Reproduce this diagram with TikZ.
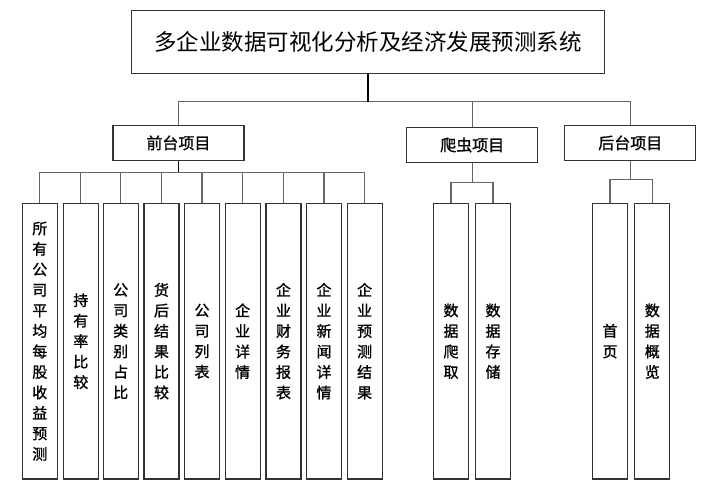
\documentclass[tikz,border=0pt]{standalone}
\usepackage{fontspec}
\setmainfont{Noto Sans CJK SC}
\newfontfamily\grasfont[FakeBold=1.2]{Noto Sans CJK SC}
\usepackage{tikz}
\definecolor{trait}{rgb}{0.2,0.2,0.2}
\definecolor{gristrait}{rgb}{0.4,0.4,0.4}

\begin{document}
\begin{tikzpicture}[x=1pt, y=-1pt, thin]
  \tikzstyle{titre}=[rectangle, draw=trait, line width=1.2pt, minimum width=473pt, minimum height=63pt, inner sep=0pt, font=\fontsize{22.5}{27}\selectfont]
  \tikzstyle{module}=[rectangle, draw=trait, line width=1.2pt, minimum width=131pt, minimum height=35.5pt, inner sep=0pt, font=\grasfont\fontsize{16}{19}\selectfont]
  \tikzstyle{feuille}=[rectangle, draw=trait, line width=1.2pt, minimum width=35pt, minimum height=275.5pt, inner sep=0pt, align=center, font=\grasfont\fontsize{15}{20.5}\selectfont]
  \tikzstyle{lien}=[draw=gristrait, line width=1.1pt]
  \tikzstyle{tronc}=[draw=black, line width=1.6pt]

  \useasboundingbox (0,0) rectangle (703,486);

	\node[titre]  (T) at (368,41.7) {多企业数据可视化分析及经济发展预测系统};

	\node[module] (F) at (178.4,142.9) {前台项目};
	\node[module] (P) at (472.2,145)   {爬虫项目};
	\node[module] (B) at (630.3,142.9) {后台项目};

	\node[feuille] (F1) at (39.8,341.2)  {所\\有\\公\\司\\平\\均\\每\\股\\收\\益\\预\\测};
	\node[feuille] (F2) at (80.8,341.2)  {持\\有\\率\\比\\较};
	\node[feuille] (F3) at (120.7,341.2) {公\\司\\类\\别\\占\\比};
	\node[feuille] (F4) at (161.5,341.2) {货\\后\\结\\果\\比\\较};
	\node[feuille] (F5) at (202,341.2)   {公\\司\\列\\表};
	\node[feuille] (F6) at (242.6,341.2) {企\\业\\详\\情};
	\node[feuille] (F7) at (283.5,341.2) {企\\业\\财\\务\\报\\表};
	\node[feuille] (F8) at (324,341.2)   {企\\业\\新\\闻\\详\\情};
	\node[feuille] (F9) at (364.6,341.2) {企\\业\\预\\测\\结\\果};

	\node[feuille] (P1) at (451,341.2)   {数\\据\\爬\\取};
	\node[feuille] (P2) at (493,341.2)   {数\\据\\存\\储};
	\node[feuille] (B1) at (610,341.2)   {首\\页};
	\node[feuille] (B2) at (652.3,341.2) {数\\据\\概\\览};

	% niveau 1
	\draw[lien] (T.south) -- ++(0,28) -| (F.north);
	\draw[lien] (T.south) -- ++(0,28) -| (P.north);
	\draw[lien] (T.south) -- ++(0,28) -| (B.north);
	\draw[tronc] (T.south) -- ++(0,28);

	% front
	\draw[lien] (F.south) -- ++(0,11) -| (F1.north);
	\draw[lien] (F.south) -- ++(0,11) -| (F2.north);
	\draw[lien] (F.south) -- ++(0,11) -| (F3.north);
	\draw[lien] (F.south) -- ++(0,11) -| (F4.north);
	\draw[lien] (F.south) -- ++(0,11) -| (F5.north);
	\draw[lien] (F.south) -- ++(0,11) -| (F6.north);
	\draw[lien] (F.south) -- ++(0,11) -| (F7.north);
	\draw[lien] (F.south) -- ++(0,11) -| (F8.north);
	\draw[lien] (F.south) -- ++(0,11) -| (F9.north);
	\draw[tronc] (F.south) -- ++(0,11);

	% crawler
	\draw[lien] (P.south) -- ++(0,19) -| (P1.north);
	\draw[lien] (P.south) -- ++(0,19) -| (P2.north);

	% back
	\draw[lien] (B.south) -- ++(0,18.5) -| (B1.north);
	\draw[lien] (B.south) -- ++(0,18.5) -| (B2.north);

\end{tikzpicture}
\end{document}
